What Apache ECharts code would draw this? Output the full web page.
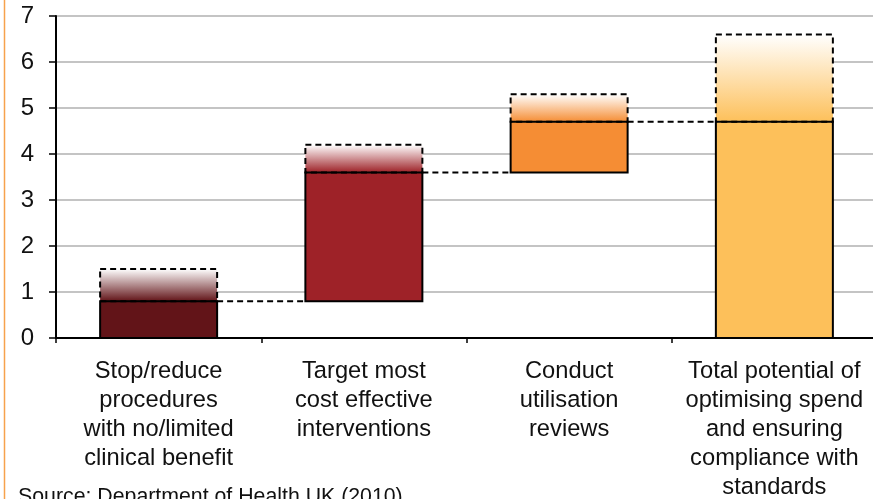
<!DOCTYPE html>
<html>
<head>
<meta charset="utf-8">
<script src="https://cdn.jsdelivr.net/npm/echarts@6/dist/echarts.min.js"></script>
<style>
html,body{margin:0;padding:0;overflow:hidden;background:#fff;}
#chart{width:873px;height:499px;}
</style>
</head>
<body>
<div id="chart"></div>
<script>
const categories = [
  "Stop/reduce\nprocedures\nwith no/limited\nclinical benefit",
  "Target most\ncost effective\ninterventions",
  "Conduct\nutilisation\nreviews",
  "Total potential of\noptimising spend\nand ensuring\ncompliance with\nstandards"
];
const baseValues = [0, 0.8, 3.6, 0];
const topValues = [0.8, 3.6, 4.7, 4.7];
const potentialValues = [1.5, 4.2, 5.3, 6.6];
const barColors = ["#621418", "#9E2228", "#F58D34", "#FDC05A"];
const sourceText = "Source: Department of Health UK (2010)";

const data = categories.map((c, i) => [i, baseValues[i], topValues[i], potentialValues[i]]);

const chart = echarts.init(document.getElementById('chart'), null, {renderer: 'canvas'});
const font = '"Liberation Sans", Arial, sans-serif';

chart.setOption({
  animation: false,
  backgroundColor: '#fff',
  grid: {left: 56, right: -4, top: 16, bottom: 161, containLabel: false, outerBoundsMode: 'none'},
  xAxis: {
    type: 'category',
    data: categories,
    boundaryGap: true,
    axisLine: {show: true, lineStyle: {color: '#000', width: 2}},
    axisTick: {show: true, length: 5, lineStyle: {color: '#000', width: 1.5}},
    axisLabel: {
      interval: 0, margin: 19, color: '#111',
      fontFamily: font, fontSize: 23.7, lineHeight: 29, align: 'center'
    },
    splitLine: {show: false}
  },
  yAxis: {
    type: 'value', min: 0, max: 7, interval: 1,
    axisLine: {show: true, onZero: false, lineStyle: {color: '#000', width: 2}},
    axisTick: {show: true, length: 7, lineStyle: {color: '#000', width: 1.5}},
    axisLabel: {margin: 22, color: '#111', fontFamily: font, fontSize: 24},
    splitLine: {show: true, lineStyle: {color: '#c4c4c4', width: 2}}
  },
  graphic: [
    {type: 'line', shape: {x1: 4.5, y1: 0, x2: 4.5, y2: 499}, style: {stroke: '#F7A24C', lineWidth: 1.5}, z: 10},
    {type: 'text', left: 18, top: 487, style: {text: sourceText, fill: '#111', font: '21.3px ' + font}, z: 10}
  ],
  series: [{
    type: 'custom',
    data: data,
    encode: {x: 0, y: [1, 2, 3]},
    renderItem: function (params, api) {
      const i = api.value(0);
      const base = api.value(1), top = api.value(2), pot = api.value(3);
      const band = api.size([1, 0])[0];
      const w = band * 0.57;
      const pBase = api.coord([i, base]);
      const pTop = api.coord([i, top]);
      const pPot = api.coord([i, pot]);
      const x = pBase[0] - w / 2;
      const col = barColors[i];
      const children = [
        {
          type: 'rect',
          shape: {x: x, y: pPot[1], width: w, height: pTop[1] - pPot[1]},
          style: {
            fill: new echarts.graphic.LinearGradient(0, 0, 0, 1, [
              {offset: 0, color: '#ffffff'},
              {offset: 1, color: col}
            ]),
            stroke: null
          }
        },
        {
          type: 'rect',
          shape: {x: x, y: pTop[1], width: w, height: pBase[1] - pTop[1]},
          style: {fill: col, stroke: '#000', lineWidth: 2}
        },
        {
          type: 'rect',
          shape: {x: x, y: pPot[1], width: w, height: pTop[1] - pPot[1]},
          style: {fill: null, stroke: '#000', lineWidth: 2, lineDash: [6, 4]}
        }
      ];
      if (i < categories.length - 1) {
        const nx = api.coord([i + 1, top])[0] - w / 2;
        children.push({
          type: 'line',
          shape: {x1: x + w, y1: pTop[1], x2: nx, y2: pTop[1]},
          style: {stroke: '#000', lineWidth: 2, lineDash: [6, 4]}
        });
      }
      return {type: 'group', children: children};
    }
  }]
});
</script>
</body>
</html>
